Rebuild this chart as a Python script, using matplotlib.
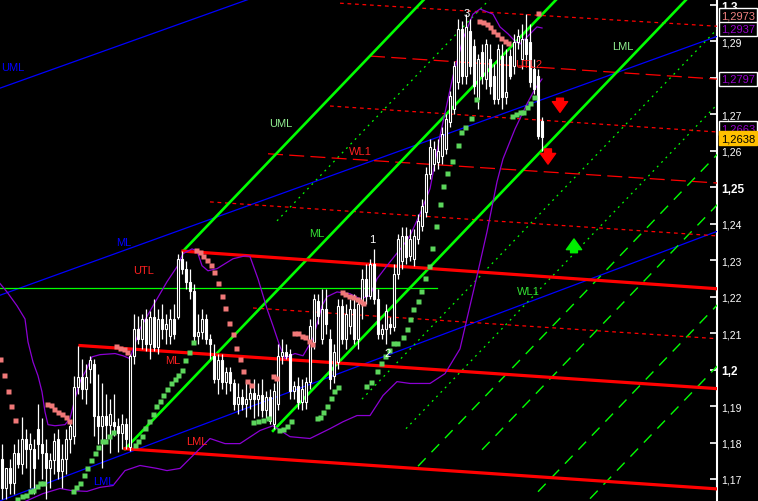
import numpy as np
import matplotlib.pyplot as plt

plt.rcParams['font.family'] = ['Liberation Sans', 'DejaVu Sans']

# ---- candles (one per bar) ----
opens = [1.1756, 1.1674, 1.1729, 1.1688, 1.1770, 1.1742, 1.1811, 1.1783, 1.1783, 1.1838,
         1.1797, 1.1770, 1.1729, 1.1751, 1.1811, 1.1723, 1.1756, 1.1811, 1.1819, 1.1953,
         1.1981, 1.1948, 1.2003, 1.2016, 1.1874, 1.1844, 1.1874, 1.1847, 1.1857, 1.1844,
         1.1825, 1.1852, 1.1789, 1.2038, 1.2112, 1.2085, 1.2140, 1.2071, 1.2145, 1.2063,
         1.2140, 1.2112, 1.2093, 1.2140, 1.2145, 1.2304, 1.2277, 1.2241, 1.2216, 1.2093,
         1.2104, 1.2140, 1.2085, 1.2038, 1.1975, 1.2025, 1.1967, 1.1994, 1.1962, 1.1907,
         1.1926, 1.1907, 1.1920, 1.1937, 1.1920, 1.1929, 1.1888, 1.1926, 1.1852, 1.1907,
         1.2038, 1.2049, 1.2044, 1.1940, 1.1956, 1.1912, 1.1912, 1.1967, 1.2077, 1.2189,
         1.2085, 1.2167, 1.2085, 1.1983, 1.2022, 1.2175, 1.2085, 1.2120, 1.2167, 1.2085,
         1.2181, 1.2249, 1.2203, 1.2290, 1.2194, 1.2099, 1.2112, 1.2126, 1.2118, 1.2263,
         1.2299, 1.2367, 1.2312, 1.2304, 1.2359, 1.2394, 1.2433, 1.2537, 1.2564, 1.2570,
         1.2586, 1.2605, 1.2679, 1.2715, 1.2789, 1.2934, 1.2805, 1.2929, 1.2888, 1.2742,
         1.2871, 1.2797, 1.2852, 1.2805, 1.2742, 1.2860, 1.2748, 1.2860, 1.2833, 1.2899,
         1.2852, 1.2907, 1.2899, 1.2825, 1.2805, 1.2682]
highs = [1.1797, 1.1715, 1.1756, 1.1797, 1.1811, 1.1871, 1.1838, 1.1825, 1.1811, 1.1907,
         1.1866, 1.1811, 1.1770, 1.1825, 1.1838, 1.1797, 1.1838, 1.1857, 1.1983, 1.2066,
         1.2030, 1.2016, 1.2038, 1.2030, 1.1989, 1.1962, 1.1934, 1.1920, 1.1934, 1.1866,
         1.1879, 1.1866, 1.2044, 1.2153, 1.2148, 1.2153, 1.2167, 1.2162, 1.2194, 1.2167,
         1.2181, 1.2153, 1.2167, 1.2181, 1.2318, 1.2326, 1.2299, 1.2277, 1.2236, 1.2153,
         1.2167, 1.2153, 1.2099, 1.2071, 1.2044, 1.2044, 1.2008, 1.2008, 1.1975, 1.1962,
         1.1948, 1.1970, 1.1962, 1.1975, 1.1962, 1.1975, 1.1942, 1.1948, 1.1962, 1.2071,
         1.2085, 1.2071, 1.2057, 1.1970, 1.1981, 1.1975, 1.1981, 1.2140, 1.2208, 1.2208,
         1.2222, 1.2222, 1.2112, 1.2071, 1.2194, 1.2194, 1.2181, 1.2194, 1.2208, 1.2194,
         1.2277, 1.2290, 1.2304, 1.2331, 1.2222, 1.2126, 1.2181, 1.2145, 1.2290, 1.2373,
         1.2392, 1.2392, 1.2386, 1.2386, 1.2427, 1.2468, 1.2556, 1.2633, 1.2627, 1.2633,
         1.2666, 1.2701, 1.2764, 1.2847, 1.2962, 1.2956, 1.2975, 1.2962, 1.2907, 1.2866,
         1.2893, 1.2907, 1.2893, 1.2838, 1.2893, 1.2893, 1.2879, 1.2879, 1.2921, 1.2934,
         1.2948, 1.2975, 1.2948, 1.2852, 1.2825, 1.2693]
lows = [1.1646, 1.1646, 1.1660, 1.1660, 1.1729, 1.1715, 1.1729, 1.1674, 1.1660, 1.1756,
        1.1701, 1.1646, 1.1674, 1.1715, 1.1701, 1.1674, 1.1715, 1.1770, 1.1797, 1.1934,
        1.1920, 1.1907, 1.1962, 1.1819, 1.1797, 1.1729, 1.1811, 1.1770, 1.1819, 1.1775,
        1.1783, 1.1783, 1.1778, 1.2016, 1.2071, 1.2057, 1.2052, 1.2030, 1.2052, 1.2044,
        1.2085, 1.2071, 1.2071, 1.2085, 1.2140, 1.2263, 1.2222, 1.2194, 1.2071, 1.2071,
        1.2085, 1.2071, 1.2030, 1.1962, 1.1934, 1.1948, 1.1934, 1.1942, 1.1888, 1.1879,
        1.1888, 1.1871, 1.1893, 1.1866, 1.1874, 1.1871, 1.1866, 1.1852, 1.1838, 1.1888,
        1.2016, 1.2030, 1.1920, 1.1920, 1.1893, 1.1888, 1.1893, 1.1948, 1.2057, 1.2126,
        1.2071, 1.2099, 1.1948, 1.1962, 1.2003, 1.2071, 1.2057, 1.2099, 1.2071, 1.2057,
        1.2140, 1.2181, 1.2194, 1.2181, 1.2085, 1.2085, 1.2071, 1.2099, 1.2107, 1.2249,
        1.2277, 1.2290, 1.2299, 1.2285, 1.2345, 1.2381, 1.2419, 1.2523, 1.2545, 1.2551,
        1.2564, 1.2592, 1.2666, 1.2701, 1.2770, 1.2784, 1.2784, 1.2811, 1.2756, 1.2715,
        1.2784, 1.2770, 1.2756, 1.2729, 1.2729, 1.2715, 1.2729, 1.2797, 1.2811, 1.2879,
        1.2825, 1.2838, 1.2775, 1.2756, 1.2633, 1.2600]
closes = [1.1674, 1.1729, 1.1688, 1.1770, 1.1742, 1.1811, 1.1783, 1.1797, 1.1729, 1.1797,
          1.1770, 1.1729, 1.1751, 1.1803, 1.1723, 1.1756, 1.1811, 1.1844, 1.1953, 1.1981,
          1.1948, 1.1981, 1.2025, 1.1874, 1.1844, 1.1874, 1.1847, 1.1879, 1.1844, 1.1825,
          1.1852, 1.1811, 1.2038, 1.2112, 1.2085, 1.2140, 1.2071, 1.2145, 1.2063, 1.2140,
          1.2112, 1.2126, 1.2140, 1.2099, 1.2304, 1.2277, 1.2241, 1.2216, 1.2093, 1.2104,
          1.2140, 1.2085, 1.2071, 1.1975, 1.2025, 1.1967, 1.1994, 1.1962, 1.1907, 1.1926,
          1.1907, 1.1920, 1.1937, 1.1920, 1.1929, 1.1888, 1.1926, 1.1860, 1.1942, 1.2038,
          1.2049, 1.2038, 1.1940, 1.1956, 1.1912, 1.1948, 1.1967, 1.2120, 1.2194, 1.2148,
          1.2167, 1.2126, 1.1975, 1.2049, 1.2175, 1.2085, 1.2153, 1.2167, 1.2085, 1.2181,
          1.2249, 1.2203, 1.2290, 1.2194, 1.2099, 1.2112, 1.2162, 1.2118, 1.2263, 1.2359,
          1.2367, 1.2310, 1.2359, 1.2367, 1.2408, 1.2449, 1.2537, 1.2611, 1.2605, 1.2600,
          1.2647, 1.2688, 1.2751, 1.2833, 1.2934, 1.2805, 1.2940, 1.2833, 1.2778, 1.2852,
          1.2805, 1.2893, 1.2778, 1.2742, 1.2879, 1.2748, 1.2762, 1.2805, 1.2899, 1.2915,
          1.2907, 1.2866, 1.2789, 1.2770, 1.2641, 1.2638]

# ---- parabolic SAR ----
sar_up_x = [3.75, 5, 6, 7, 7.75, 8.75, 9.5, 10.25,
            17.75, 18.5, 19.5, 20.5, 21.25, 22.25, 23.25, 24, 25, 25.75, 26.75, 27.75,
            33.25, 34, 35, 35.75, 36.75, 37.75, 38.5, 39.5, 40.25, 41.25, 42.25, 43.25, 44, 45, 45.75, 46.75, 47.75,
            62.75, 64, 65.25, 66.5,
            69.25, 70.25, 71.25, 72.25,
            78.75, 79.5, 80.25, 81.25, 82.25, 83, 84,
            91, 92.25, 93.75, 94.75, 95.75, 96.75, 97.75, 98.75, 100.25, 101.25, 102, 102.75, 104, 104.75,
            105.75, 106.75, 107.5, 108.5, 109.5, 110.25, 111.25, 112.5, 114, 114.75, 115.75, 117.25, 118.5,
            127.5, 128.5, 129.5, 130.25, 131.25, 132, 133]
sar_up_y = [1.1646, 1.1652, 1.1657, 1.1666, 1.1671, 1.1682, 1.1688, 1.1688,
            1.1668, 1.1677, 1.1688, 1.1710, 1.1731, 1.1751, 1.1770, 1.1789, 1.1805, 1.1805, 1.1819, 1.1830,
            1.1792, 1.1805, 1.1819, 1.1841, 1.1860, 1.1879, 1.1899, 1.1915, 1.1931, 1.1948, 1.1962, 1.1975, 1.1986, 1.2000, 1.2025, 1.2049, 1.2077,
            1.1857, 1.1860, 1.1863, 1.1866,
            1.1833, 1.1838, 1.1846, 1.1860,
            1.1866, 1.1871, 1.1885, 1.1901, 1.1923, 1.1940, 1.1953,
            1.1956, 1.1967, 1.1997, 1.2019, 1.2038, 1.2055, 1.2074, 1.2074, 1.2090, 1.2112, 1.2140, 1.2167, 1.2189, 1.2216,
            1.2252, 1.2285, 1.2334, 1.2394, 1.2455, 1.2504, 1.2540, 1.2573, 1.2616, 1.2652, 1.2666, 1.2690, 1.2742,
            1.2696, 1.2701, 1.2707, 1.2707, 1.2720, 1.2731, 1.2748]
sar_dn_x = [-0.5, 0.5, 1.5, 2.25, 3.25,
            11.25, 12.25, 13, 14, 15, 16, 16.75,
            28.5, 29.5, 30.5, 31.25,
            48.5, 49.5, 50.25, 51.25, 52.25, 53, 54, 55, 55.75, 56.75, 57.75, 58.5, 59.5, 60.25, 61.25, 62.25,
            67.75, 68.5,
            73, 74, 75, 75.75, 76.75, 77.5,
            85, 85.75, 86.75, 87.75, 88.75, 89.5, 90.25,
            119.25, 120.25, 121.25, 122, 122.75, 123.75, 124.75, 125.75, 126.5,
            134]
sar_dn_y = [1.2030, 1.1986, 1.1942, 1.1899, 1.1863,
            1.1907, 1.1904, 1.1893, 1.1885, 1.1877, 1.1871, 1.1860,
            1.2066, 1.2060, 1.2057, 1.2049,
            1.2329, 1.2323, 1.2312, 1.2301, 1.2288, 1.2268, 1.2238, 1.2203, 1.2170, 1.2129, 1.2099, 1.2060, 1.2030, 1.1997, 1.1970, 1.1959,
            1.1983, 1.1978,
            1.2101, 1.2101, 1.2093, 1.2090, 1.2079, 1.2071,
            1.2214, 1.2208, 1.2203, 1.2200, 1.2194, 1.2189, 1.2183,
            1.2956, 1.2953, 1.2948, 1.2940, 1.2929, 1.2921, 1.2910, 1.2901, 1.2896,
            1.2978]

# ---- bollinger bands ----
bb_up_x = [-0.5, 1.25, 3.75, 5.75, 6.5, 7.75, 9, 10, 10.75, 11.5, 13.25, 15.75, 17, 18.25, 19.5, 21.25,
           22.5, 24.5, 28.25, 30.25, 32, 34.5, 37.75, 41.25, 43.75, 45.25, 47.5, 48.75, 50, 51.5, 53.75,
           57.75, 60.75, 62, 64, 66.25, 67.75, 69.5, 70.75, 72, 73.25, 75.25, 77.75, 80, 81.25, 83.75,
           87, 89.5, 92, 93.75, 96.25, 100.25, 102, 104.5, 107, 109.5, 112.75, 115.25, 117.75, 119.5,
           122.75, 124.5, 126.5, 128.25, 129.5, 131.5, 133.75, 135]
bb_up_y = [1.2236, 1.2213, 1.2175, 1.2139, 1.2076, 1.2021, 1.1983, 1.1939, 1.1884, 1.1849, 1.1846, 1.1849,
           1.1866, 1.1920, 1.1967, 1.2003, 1.2035, 1.2041, 1.2044, 1.2038, 1.2030, 1.2112, 1.2175, 1.2241,
           1.2282, 1.2318, 1.2331, 1.2326, 1.2285, 1.2271, 1.2277, 1.2304, 1.2312, 1.2310, 1.2249, 1.2167,
           1.2120, 1.2063, 1.2030, 1.2038, 1.2044, 1.2038, 1.2085, 1.2175, 1.2200, 1.2213, 1.2208, 1.2194,
           1.2203, 1.2249, 1.2285, 1.2340, 1.2367, 1.2427, 1.2496, 1.2641, 1.2805, 1.2907, 1.2975, 1.2989,
           1.2975, 1.2940, 1.2921, 1.2901, 1.2893, 1.2915, 1.2940, 1.2937]
bb_lo_x = [-0.5, 4.5, 10.25, 14.5, 17.5, 21.25, 24.5, 27.75, 30.75, 34.5, 38.75, 41.25, 44.5, 48.25, 52,
           55.75, 59.5, 64.5, 67.75, 72, 77, 82, 85.25, 88.75, 92, 95.25, 98.75, 102, 107, 110.75, 114.5,
           116.25, 118.75, 121.25, 123.75, 125.25, 128.25, 131.25, 133.25, 135]
bb_lo_y = [1.1632, 1.1632, 1.1660, 1.1674, 1.1668, 1.1666, 1.1677, 1.1682, 1.1723, 1.1737, 1.1729, 1.1723,
           1.1729, 1.1770, 1.1811, 1.1797, 1.1797, 1.1833, 1.1846, 1.1816, 1.1811, 1.1838, 1.1857, 1.1874,
           1.1874, 1.1929, 1.1967, 1.1962, 1.1962, 1.1989, 1.2057, 1.2140, 1.2257, 1.2378, 1.2515, 1.2578,
           1.2660, 1.2729, 1.2770, 1.2797]

# ---- price axis ----
tick_vals = [1.17, 1.18, 1.19, 1.20, 1.21, 1.22, 1.23, 1.24, 1.25, 1.26, 1.27, 1.28, 1.29, 1.30]
tick_text = ['1,17', '1,18', '1,19', '1,2', '1,21', '1,22', '1,23', '1,24', '1,25', '1,26', '1,27', '', '1,29', '1,3']

fig = plt.figure(figsize=(7.58, 5.02), dpi=100, facecolor='black')
ax = fig.add_axes([0, 0, 717 / 758, 1])
ax.set_facecolor('black')
ax.set_xlim(-0.5, 178.75)
ax.set_ylim(1.16396, 1.30165)

# pitchfork lines (blue)
for p0, p1 in [((-0.5, 1.2772), (62, 1.3017)),
               ((24.5, 1.2303), (74.5, 1.2501)),
               ((-0.5, 1.1640), (32, 1.1774))]:
    ax.axline(p0, p1, color='#0000ff', lw=0.9, zorder=3)


def ray(p0, p1, **kw):
    s = (p1[1] - p0[1]) / (p1[0] - p0[0])
    ax.plot([p0[0], 200], [p0[1], p0[1] + s * (200 - p0[0])], **kw)


# green pitchfork
for p0, p1 in [((45.25, 1.2325), (74.5, 1.2660)),
               ((30.75, 1.1782), (138.75, 1.3017)),
               ((67.75, 1.1832), (171.25, 1.3017))]:
    ray(p0, p1, color='#00ff00', lw=1.9, zorder=4)

# green dotted warning lines
for p0 in [(68.75, 1.2408), (90, 1.1919), (101, 1.1838)]:
    ray(p0, (p0[0] + 10, p0[1] + 0.01143), color='#00ff00', lw=0.9,
        dashes=(1.5, 3.5), zorder=3)

# green long-dash lines
for p0 in [(104, 1.1735), (120, 1.1780), (134, 1.1665), (147, 1.1646)]:
    ray(p0, (p0[0] + 10, p0[1] + 0.01143), color='#00ff00', lw=1.0,
        dashes=(8, 6), zorder=3)

# red schiff lines
for p0, p1 in [((45.25, 1.2325), (178.5, 1.2222)),
               ((19.5, 1.2066), (178.5, 1.1948)),
               ((30.75, 1.1783), (178.5, 1.1673))]:
    ray(p0, p1, color='#ff0000', lw=2.3, zorder=4)

for p0, p1, dsh in [((84.5, 1.3005), (178.5, 1.2942), (3, 3)),
                    ((92, 1.2860), (178.5, 1.2797), (12, 5)),
                    ((82, 1.2723), (178.5, 1.2652), (3, 3)),
                    ((66.5, 1.2592), (178.5, 1.2512), (12, 5)),
                    ((52, 1.2460), (178.5, 1.2367), (3, 3)),
                    ((62.75, 1.2169), (178.5, 1.2085), (3, 3))]:
    ray(p0, p1, color='#ff0000', lw=0.9, dashes=dsh, zorder=3)

ax.plot([-0.5, 108.75], [1.2224, 1.2224], color='#00ff00', lw=0.9, zorder=3)

# bollinger
ax.plot(bb_up_x, bb_up_y, color='#8c00d4', lw=0.9, zorder=5)
ax.plot(bb_lo_x, bb_lo_y, color='#8c00d4', lw=0.9, zorder=5)

# candles
x = np.arange(len(closes))
o = np.array(opens)
c = np.array(closes)
ax.vlines(x, lows, highs, color='white', lw=0.9, zorder=6)
face = ['black' if cc > oo else 'white' for oo, cc in zip(o, c)]
ax.bar(x, c - o, bottom=o, width=0.62, color=face, edgecolor='white', lw=0.8, zorder=7)

# SAR dots
ax.plot(sar_up_x, sar_up_y, 's', ms=3.6, color='#5cd65c', mec='none', zorder=8)
ax.plot(sar_dn_x, sar_dn_y, 's', ms=3.6, color='#f07878', mec='none', zorder=8)

# arrows
for tail, tip, col in [((139.5, 1.2752), (139.5, 1.2698), 'red'),
                       ((136.5, 1.2613), (136.5, 1.2556), 'red'),
                       ((143, 1.2313), (143, 1.2366), '#00ee00')]:
    ax.annotate('', xy=tip, xytext=tail, zorder=9,
                arrowprops=dict(arrowstyle='simple,head_length=0.7,head_width=1.0,tail_width=0.45',
                                color=col, mutation_scale=11))

# line labels (pixel positions of the original)
labels = [('UML', 1, 68, '#0000ff'), ('ML', 116, 243, '#0000ff'), ('LML', 93, 482, '#0000ff'),
          ('UML', 269, 124, '#90ee90'), ('ML', 309, 234, '#33dd33'), ('LML', 612, 47, '#90ee90'),
          ('WL1', 517, 292, '#33dd33'), ('UTL', 133, 271, '#ff2020'), ('ML', 165, 361, '#ff2020'),
          ('LML', 186, 442, '#ff2020'), ('WL1', 349, 152, '#ff2020'), ('UTL2', 515, 65, '#ff2020'),
          ('1', 369, 240, 'white'), ('2', 384, 354, 'white'), ('3', 464, 14, 'white')]
for txt, px, py, col in labels:
    ax.text(px / 717, 1 - py / 502, txt, color=col, fontsize=8, transform=ax.transAxes,
            ha='left', va='center', zorder=10)

# price axis on the right
for s in ['left', 'top', 'bottom']:
    ax.spines[s].set_visible(False)
ax.spines['right'].set_color('white')
ax.spines['right'].set_linewidth(1.5)
ax.set_xticks([])
ax.yaxis.tick_right()
ax.set_yticks(tick_vals)
ax.set_yticklabels(tick_text)
ax.tick_params(axis='y', direction='in', length=5, width=1.2, color='white',
               labelcolor='white', labelsize=7.5, pad=3)
for t in ax.get_yticklabels():
    if t.get_text() in ('1,3', '1,25', '1,2'):
        t.set_fontweight('bold')
        t.set_fontsize(8.5)

boxes = [('1,2973', 16.5, '#f08080', 'black', 'white'),
         ('1,2937', 30, '#9900cc', 'black', 'white'),
         ('1,2797', 80, '#9900cc', 'black', 'white'),
         ('1,2663', 129, '#9900cc', 'black', 'white'),
         ('1,2638', 139, 'black', '#ffc000', '#ffc000')]
for txt, py, tcol, fcol, ecol in boxes:
    fig.text(721 / 758, 1 - py / 502, txt, color=tcol, fontsize=8, ha='left', va='center',
             bbox=dict(boxstyle='square,pad=0.2', facecolor=fcol, edgecolor=ecol, lw=1.0))

fig.savefig('out.png', dpi=100, facecolor='black')
